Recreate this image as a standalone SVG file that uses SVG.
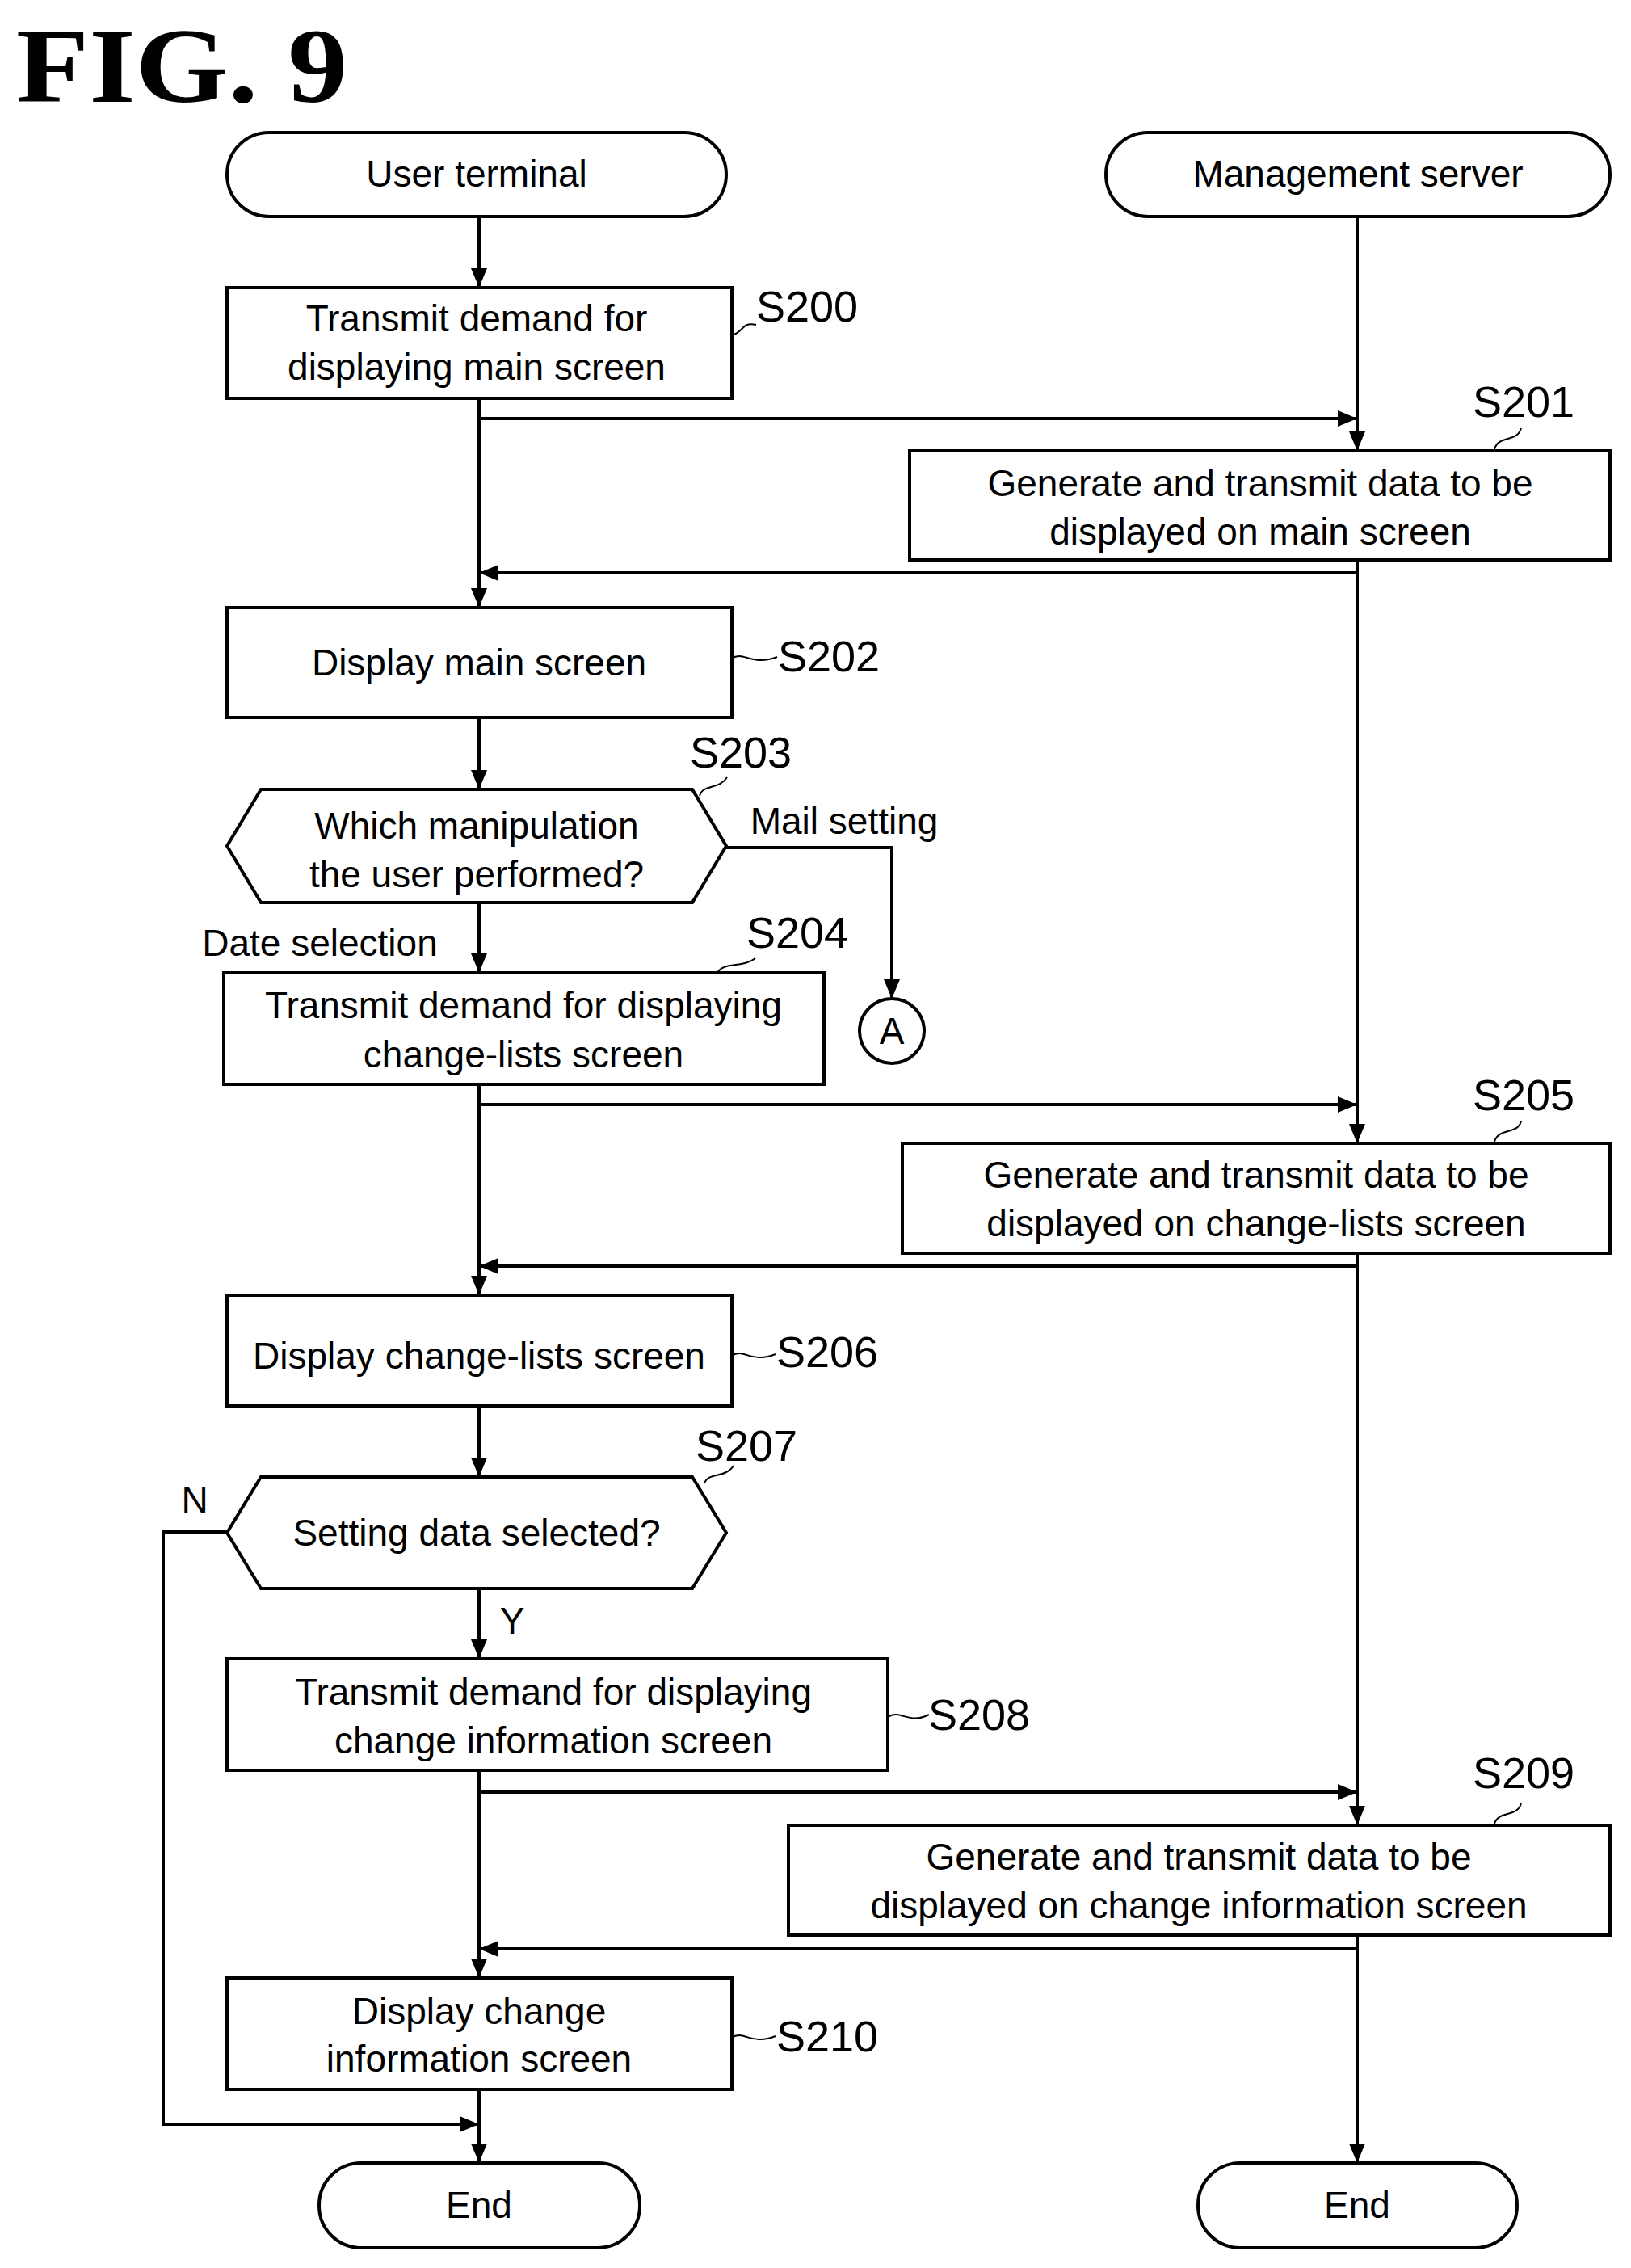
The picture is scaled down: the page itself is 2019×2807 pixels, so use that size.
<svg xmlns="http://www.w3.org/2000/svg" width="2019" height="2807" viewBox="0 0 2019 2807">
<style>
.b{fill:#fff;stroke:#000;stroke-width:4}
.t{font-family:"Liberation Sans",Arial,sans-serif;font-size:46px;text-anchor:middle;fill:#000}
.l{font-family:"Liberation Sans",Arial,sans-serif;font-size:54px;fill:#000}
.c{fill:none;stroke:#000;stroke-width:4}
.s{fill:none;stroke:#000;stroke-width:2}
</style>
<defs>
<marker id="m" markerWidth="24" markerHeight="20" refX="22" refY="10" orient="auto" markerUnits="userSpaceOnUse"><path d="M0,0 L24,10 L0,20 Z"/></marker></defs>
<rect width="2019" height="2807" fill="#fff"/>
<text x="20" y="126" font-family="Liberation Serif,serif" font-weight="bold" font-size="132" textLength="410" lengthAdjust="spacingAndGlyphs">FIG. 9</text>
<g id="connectors">
<path class="c" d="M593,268 V354" marker-end="url(#m)"/>
<path class="c" d="M593,493 V750" marker-end="url(#m)"/>
<path class="c" d="M593,518 H1678" marker-end="url(#m)"/>
<path class="c" d="M1680,268 V556" marker-end="url(#m)"/>
<path class="c" d="M1680,693 V709 H595" marker-end="url(#m)"/>
<path class="c" d="M593,888 V975" marker-end="url(#m)"/>
<path class="c" d="M593,1117 V1202" marker-end="url(#m)"/>
<path class="c" d="M899,1049 H1104 V1234" marker-end="url(#m)"/>
<path class="c" d="M593,1342 V1601" marker-end="url(#m)"/>
<path class="c" d="M593,1367 H1678" marker-end="url(#m)"/>
<path class="c" d="M1680,709 V1413" marker-end="url(#m)"/>
<path class="c" d="M1680,1551 V1567 H595" marker-end="url(#m)"/>
<path class="c" d="M593,1740 V1826" marker-end="url(#m)"/>
<path class="c" d="M593,1966 V2051" marker-end="url(#m)"/>
<path class="c" d="M281,1896 H202 V2629 H591" marker-end="url(#m)"/>
<path class="c" d="M593,2191 V2446" marker-end="url(#m)"/>
<path class="c" d="M593,2218 H1678" marker-end="url(#m)"/>
<path class="c" d="M1680,1567 V2257" marker-end="url(#m)"/>
<path class="c" d="M1680,2395 V2412 H595" marker-end="url(#m)"/>
<path class="c" d="M593,2586 V2675" marker-end="url(#m)"/>
<path class="c" d="M1680,2412 V2675" marker-end="url(#m)"/>
<text class="t" x="1045" y="1032">Mail setting</text>
<text class="t" x="396" y="1183">Date selection</text>
<text class="t" x="241" y="1872" font-size="40">N</text>
<text class="t" x="634" y="2022" font-size="40">Y</text>
</g>
<g id="start_user"><rect class="b" x="281" y="164" width="618" height="104" rx="52"/><text class="t" x="590" y="231">User terminal</text></g>
<g id="start_server"><rect class="b" x="1369" y="164" width="624" height="104" rx="52"/><text class="t" x="1681" y="231">Management server</text></g>
<g id="S200"><rect class="b" x="281" y="356" width="625" height="137"/><text class="t" x="590" y="410">Transmit demand for</text><text class="t" x="590" y="470">displaying main screen</text>
<path class="s" d="M906,415 C922,410 918,398 936,402"/><text class="l" x="936" y="398">S200</text></g>
<g id="S201"><rect class="b" x="1126" y="558" width="867" height="135"/><text class="t" x="1560" y="614">Generate and transmit data to be</text><text class="t" x="1560" y="674">displayed on main screen</text>
<path class="s" d="M1850,556 C1855,538 1878,548 1883,530"/><text class="l" x="1823" y="516">S201</text></g>
<g id="S202"><rect class="b" x="281" y="752" width="625" height="136"/><text class="t" x="593" y="836">Display main screen</text>
<path class="s" d="M906,815 C920,805 930,825 962,813"/><text class="l" x="963" y="831">S202</text></g>
<g id="S203"><path class="b" d="M323,977 H857 L899,1047 L857,1117 H323 L281,1047 Z"/><text class="t" x="590" y="1038">Which manipulation</text><text class="t" x="590" y="1098">the user performed?</text>
<path class="s" d="M866,985 C870,970 890,978 900,962"/><text class="l" x="854" y="950">S203</text></g>
<g id="S204"><rect class="b" x="277" y="1204" width="743" height="138"/><text class="t" x="648" y="1260">Transmit demand for displaying</text><text class="t" x="648" y="1321">change-lists screen</text>
<path class="s" d="M888,1204 C895,1190 920,1198 935,1186"/><text class="l" x="924" y="1173">S204</text></g>
<g id="A"><circle class="b" cx="1104" cy="1276" r="40"/><text class="t" x="1104" y="1292">A</text></g>
<g id="S205"><rect class="b" x="1117" y="1415" width="876" height="136"/><text class="t" x="1555" y="1470">Generate and transmit data to be</text><text class="t" x="1555" y="1530">displayed on change-lists screen</text>
<path class="s" d="M1850,1413 C1855,1395 1878,1405 1883,1388"/><text class="l" x="1823" y="1374">S205</text></g>
<g id="S206"><rect class="b" x="281" y="1603" width="625" height="137"/><text class="t" x="593" y="1694">Display change-lists screen</text>
<path class="s" d="M906,1678 C920,1668 930,1688 960,1676"/><text class="l" x="961" y="1692">S206</text></g>
<g id="S207"><path class="b" d="M323,1828 H857 L899,1897 L857,1966 H323 L281,1897 Z"/><text class="t" x="590" y="1913">Setting data selected?</text>
<path class="s" d="M872,1836 C876,1822 898,1830 908,1814"/><text class="l" x="861" y="1808">S207</text></g>
<g id="S208"><rect class="b" x="281" y="2053" width="818" height="138"/><text class="t" x="685" y="2110">Transmit demand for displaying</text><text class="t" x="685" y="2170">change information screen</text>
<path class="s" d="M1099,2125 C1115,2115 1125,2135 1150,2122"/><text class="l" x="1149" y="2141">S208</text></g>
<g id="S209"><rect class="b" x="976" y="2259" width="1017" height="136"/><text class="t" x="1484" y="2314">Generate and transmit data to be</text><text class="t" x="1484" y="2374">displayed on change information screen</text>
<path class="s" d="M1850,2257 C1855,2240 1878,2250 1883,2232"/><text class="l" x="1823" y="2213">S209</text></g>
<g id="S210"><rect class="b" x="281" y="2448" width="625" height="138"/><text class="t" x="593" y="2505">Display change</text><text class="t" x="593" y="2564">information screen</text>
<path class="s" d="M906,2522 C920,2512 930,2532 960,2520"/><text class="l" x="961" y="2539">S210</text></g>
<g id="end_user"><rect class="b" x="395" y="2677" width="397" height="105" rx="52"/><text class="t" x="593" y="2745">End</text></g>
<g id="end_server"><rect class="b" x="1483" y="2677" width="395" height="105" rx="52"/><text class="t" x="1680" y="2745">End</text></g>
</svg>
